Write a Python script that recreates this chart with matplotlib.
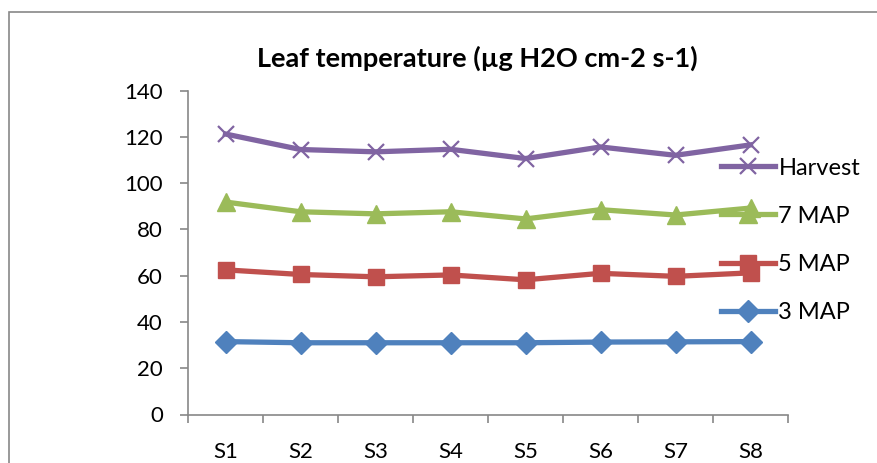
import matplotlib
matplotlib.use("Agg")
import matplotlib.pyplot as plt
from matplotlib.patches import Rectangle

# ---------- Data ----------
stages = ["S1", "S2", "S3", "S4", "S5", "S6", "S7", "S8"]
map3 = [31.5, 31.0, 31.0, 31.0, 31.0, 31.3, 31.4, 31.5]
map5 = [62.5, 60.5, 59.5, 60.3, 58.2, 61.0, 59.7, 61.2]
map7 = [91.8, 87.6, 86.7, 87.6, 84.5, 88.5, 86.2, 89.2]
harvest = [121.2, 114.5, 113.5, 114.6, 110.6, 115.6, 112.0, 116.5]

plt.rcParams['font.family'] = ['Lato', 'DejaVu Sans']

fig = plt.figure(figsize=(8.77, 4.63), dpi=100)
ax = fig.add_axes([188 / 877, 1 - 414.5 / 463, 600 / 877, 324 / 463])

# outer chart border (Excel style)
fig.patches.append(Rectangle((0.010, -0.1), 1.1, 0.1 + 1 - 12 / 463,
                             transform=fig.transFigure, fill=False,
                             edgecolor='#888888', lw=1.2))

x = range(len(stages))
lw = 3.8
ax.plot(x, map3, color='#4F81BD', lw=lw, marker='D', ms=11, label='3 MAP')
ax.plot(x, map5, color='#C0504D', lw=lw, marker='s', ms=12, label='5 MAP')
ax.plot(x, map7, color='#9BBB59', lw=lw, marker='^', ms=13, label='7 MAP')
ax.plot(x, harvest, color='#8064A2', lw=lw, marker='x', ms=12, mew=1.6,
        label='Harvest')

ax.set_xlim(-0.5, len(stages) - 0.5)
ax.set_ylim(0, 140)
ax.set_yticks(range(0, 141, 20))
ax.set_xticks(list(x))
ax.set_xticklabels(stages)
ax.set_xticks([i - 0.5 for i in range(len(stages) + 1)], minor=True)
ax.tick_params(axis='x', which='major', length=0, pad=20, labelsize=16)
ax.tick_params(axis='x', which='minor', length=6, color='#888888', width=1.2)
ax.tick_params(axis='y', length=6, color='#888888', width=1.2, labelsize=16,
               pad=12)

for side in ('top', 'right'):
    ax.spines[side].set_visible(False)
for side in ('left', 'bottom'):
    ax.spines[side].set_color('#888888')
    ax.spines[side].set_linewidth(1.2)

ax.set_title("Leaf temperature (µg H2O cm-2 s-1)", fontsize=19.5,
             fontweight='bold', pad=17, x=0.4825)

handles, labels = ax.get_legend_handles_labels()
leg = fig.legend(handles[::-1], labels[::-1], loc='center left',
                 bbox_to_anchor=(0.798, 0.481), frameon=False, fontsize=17,
                 handlelength=2.3, handletextpad=0.13, labelspacing=1.15)

fig.savefig("out.png", dpi=100)
